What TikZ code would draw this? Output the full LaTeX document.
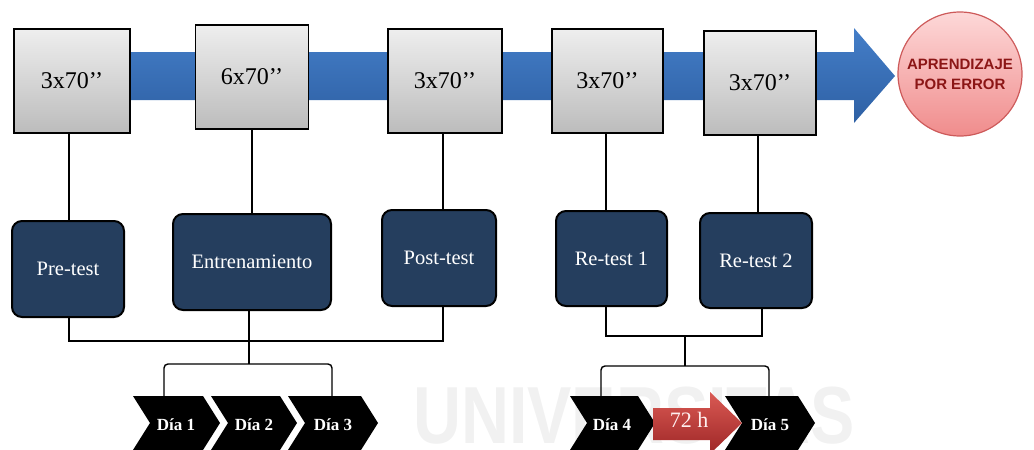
\documentclass[tikz,border=0pt]{standalone}
\usepackage{fontspec}
\setmainfont{Liberation Serif}
\newfontfamily\sansf{Liberation Sans}
\usetikzlibrary{calc}
\definecolor{bandtop}{RGB}{68,126,200}
\definecolor{bandbot}{RGB}{46,96,164}
\definecolor{navy}{RGB}{37,62,94}
\definecolor{boxtop}{RGB}{238,238,238}
\definecolor{boxbot}{RGB}{188,188,188}
\definecolor{pinktop}{RGB}{253,216,216}
\definecolor{pinkbot}{RGB}{240,140,140}
\definecolor{pinkedge}{RGB}{205,90,90}
\definecolor{maroon}{RGB}{140,22,22}
\definecolor{redtop}{RGB}{218,90,84}
\definecolor{redbot}{RGB}{158,38,38}
\definecolor{wmark}{RGB}{241,241,241}
\tikzset{
  timebox/.style={draw=black, line width=1.5pt, top color=boxtop, bottom color=boxbot,
    minimum height=104pt, inner sep=0pt, font=\fontsize{24}{28}\selectfont},
  testbox/.style={draw=black, line width=2pt, fill=navy, rounded corners=10pt,
    minimum height=96pt, inner sep=0pt, text=white, font=\fontsize{20.5}{23}\selectfont},
  daylabel/.style={text=white, inner sep=0pt, font=\bfseries\fontsize{17}{19}\selectfont},
  chevfill/.style={fill=black},
  conn/.style={draw=black, line width=1.4pt},
  bracket/.style={draw=black, line width=1.4pt, rounded corners=4pt},
}
\newcommand\chevronshape[2]{%
  \fill[chevfill] (#1,396) -- (#2-17,396) -- (#2,423) -- (#2-17,450) -- (#1,450) -- (#1+17,423) -- cycle;}
\begin{document}
\begin{tikzpicture}[x=1pt,y=-1pt]
\useasboundingbox (0,0) rectangle (1034,450);
% watermark
\node[text=wmark, font=\sansf\bfseries\fontsize{81}{81}\selectfont, xscale=0.82, anchor=base, inner sep=0pt] (wm) at (634,443) {UNIVERSITAS};
% blue timeline arrow
\shade[top color=bandtop, bottom color=bandbot]
  (14,52) -- (854,52) -- (854,28) -- (895,76) -- (854,123) -- (854,100) -- (14,100) -- cycle;
% goal circle
\node[circle, draw=pinkedge, line width=1.2pt, top color=pinktop, bottom color=pinkbot,
  minimum size=124pt, inner sep=0pt, align=center, text=maroon,
  font=\sansf\bfseries\fontsize{15}{20}\selectfont] (goal) at (960,74) {APRENDIZAJE\\POR ERROR};
% time boxes
\node[timebox, minimum width=116pt] (b1) at (72,81) {3x70’’};
\node[timebox, minimum width=113pt] (b2) at (252,77) {6x70’’};
\node[timebox, minimum width=114pt] (b3) at (445,81) {3x70’’};
\node[timebox, minimum width=111pt] (b4) at (607.5,81) {3x70’’};
\node[timebox, minimum width=112pt] (b5) at (760,83) {3x70’’};
% test boxes
\node[testbox, minimum width=112pt] (p1) at (68,269) {Pre-test};
\node[testbox, minimum width=158pt] (p2) at (252,262) {Entrenamiento};
\node[testbox, minimum width=114pt] (p3) at (439,258) {Post-test};
\node[testbox, minimum width=111pt, minimum height=95pt] (p4) at (611.5,258.5) {Re-test 1};
\node[testbox, minimum width=112pt, minimum height=95pt] (p5) at (756,260.5) {Re-test 2};
% vertical links
\draw[conn] (b1.south -| 69,0) -- (p1.north -| 69,0);
\draw[conn] (b2.south) -- (p2.north -| b2.south);
\draw[conn] (b3.south -| 443,0) -- (p3.north -| 443,0);
\draw[conn] (b4.south -| 606,0) -- (p4.north -| 606,0);
\draw[conn] (b5.south -| 758,0) -- (p5.north -| 758,0);
% day chevrons
\chevronshape{133}{220}
\chevronshape{211}{297}
\chevronshape{288}{378}
\chevronshape{570}{655}
\chevronshape{725}{815}
\node[daylabel] (d1) at (176,425) {Día 1};
\node[daylabel] (d2) at (254,425) {Día 2};
\node[daylabel] (d3) at (333,425) {Día 3};
\node[daylabel] (d4) at (612,425) {Día 4};
\node[daylabel] (d5) at (770,425) {Día 5};
\coordinate (t1) at (164,396);
\coordinate (t3) at (332,396);
\coordinate (t4) at (601,397);
\coordinate (t5) at (769,397);
% 72 h arrow
\shade[top color=redtop, bottom color=redbot]
  (653,408) -- (710,408) -- (710,392) -- (742,423) -- (710,454) -- (710,440) -- (653,440) -- cycle;
\node[text=white!94!red, inner sep=0pt, font=\fontsize{22}{24}\selectfont] (h72) at (689,420) {72 h};
% lower links, left group
\draw[conn] (p1.south -| 69,0) |- (443,341) -- (p3.south -| 443,0);
\draw[conn] (p2.south -| 249,0) -- (249,364);
\draw[bracket] (t1) |- (249,364) -| (t3);
% lower links, right group
\draw[conn] (p4.south -| 606,0) |- (762,336) -- (p5.south -| 762,0);
\draw[conn] (685,336) -- (685,366);
\draw[bracket] (t4) |- (685,366) -| (t5);
\end{tikzpicture}
\end{document}
